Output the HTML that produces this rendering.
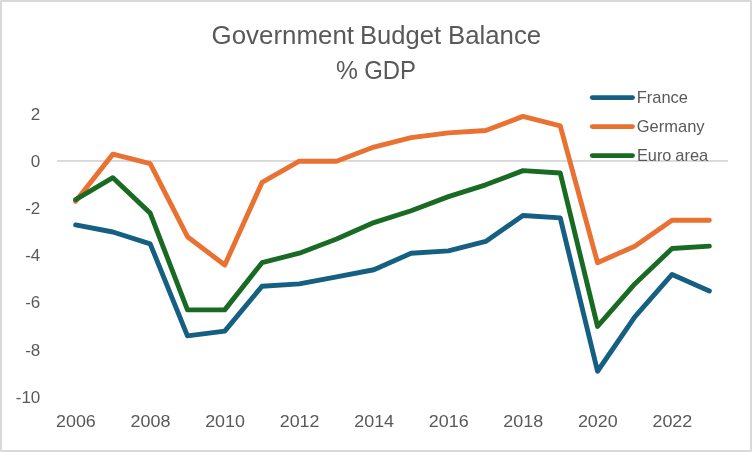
<!DOCTYPE html>
<html><head><meta charset="utf-8"><title>Government Budget Balance</title>
<style>
html,body{margin:0;padding:0;background:#fff;}
body{width:752px;height:452px;overflow:hidden;}
svg{display:block;}
text{font-family:"Liberation Sans",Arial,sans-serif;fill:#595959;}
.t{font-size:25.7px;}
.a{font-size:17px;}
.g{font-size:16.6px;}
.y{text-anchor:end;}
.x{text-anchor:middle;}
.l{fill:none;stroke-width:4.9;stroke-linejoin:round;stroke-linecap:round;}
</style></head><body>
<svg width="752" height="452" viewBox="0 0 752 452">
<rect x="0" y="0" width="752" height="452" fill="#fff"/>
<rect x="1" y="1" width="750" height="450" fill="none" stroke="#d9d9d9" stroke-width="2"/>
<path d="M0 0h1v1h-1zM751 0h1v1h-1zM0 451h1v1h-1zM751 451h1v1h-1z" fill="#e8e8e8"/>
<text class="t" y="43.7"><tspan x="211.6" textLength="142.4" lengthAdjust="spacingAndGlyphs">Government</tspan> <tspan x="359.9" textLength="81.1" lengthAdjust="spacingAndGlyphs">Budget</tspan> <tspan x="448.0" textLength="93.2" lengthAdjust="spacingAndGlyphs">Balance</tspan></text>
<text class="t" y="79.3"><tspan x="336.1" textLength="21.9" lengthAdjust="spacingAndGlyphs">%</tspan> <tspan x="364.2" textLength="51.8" lengthAdjust="spacingAndGlyphs">GDP</tspan></text>
<rect x="57.0" y="160" width="671.0" height="1.9" fill="#d9d9d9"/>
<text class="a y" x="40.3" y="120">2</text>
<text class="a y" x="40.3" y="167">0</text>
<text class="a y" x="40.3" y="214">-2</text>
<text class="a y" x="40.3" y="261">-4</text>
<text class="a y" x="40.3" y="308">-6</text>
<text class="a y" x="40.3" y="356">-8</text>
<text class="a y" x="40.3" y="403">-10</text>
<text class="a x" x="75.94" y="427" textLength="39.8" lengthAdjust="spacingAndGlyphs">2006</text>
<text class="a x" x="150.49" y="427" textLength="39.8" lengthAdjust="spacingAndGlyphs">2008</text>
<text class="a x" x="225.05" y="427" textLength="39.8" lengthAdjust="spacingAndGlyphs">2010</text>
<text class="a x" x="299.61" y="427" textLength="39.8" lengthAdjust="spacingAndGlyphs">2012</text>
<text class="a x" x="374.16" y="427" textLength="39.8" lengthAdjust="spacingAndGlyphs">2014</text>
<text class="a x" x="448.72" y="427" textLength="39.8" lengthAdjust="spacingAndGlyphs">2016</text>
<text class="a x" x="523.27" y="427" textLength="39.8" lengthAdjust="spacingAndGlyphs">2018</text>
<text class="a x" x="597.83" y="427" textLength="39.8" lengthAdjust="spacingAndGlyphs">2020</text>
<text class="a x" x="672.38" y="427" textLength="39.8" lengthAdjust="spacingAndGlyphs">2022</text>
<polyline class="l" stroke="#156082" points="75.64,224.92 112.92,232.00 150.19,243.80 187.47,335.84 224.75,331.12 262.03,286.28 299.31,283.92 336.58,276.84 373.86,269.76 411.14,253.24 448.42,250.88 485.69,241.44 522.97,215.48 560.25,217.84 597.53,371.24 634.81,316.96 672.08,274.48 709.36,291.00"/>
<polyline class="l" stroke="#e97132" points="75.64,201.32 112.92,154.12 150.19,163.56 187.47,236.72 224.75,265.04 262.03,182.44 299.31,161.20 336.58,161.20 373.86,147.04 411.14,137.60 448.42,132.88 485.69,130.52 522.97,116.36 560.25,125.80 597.53,262.68 634.81,246.16 672.08,220.20 709.36,220.20"/>
<polyline class="l" stroke="#196b24" points="75.64,199.67 112.92,177.72 150.19,213.12 187.47,309.88 224.75,309.88 262.03,262.68 299.31,253.24 336.58,239.08 373.86,222.56 411.14,210.76 448.42,196.60 485.69,184.80 522.97,170.64 560.25,173.00 597.53,326.40 634.81,283.92 672.08,248.52 709.36,246.16"/>
<line class="l" stroke="#156082" x1="592.3" x2="632.5" y1="97.6" y2="97.6"/>
<text class="g" y="102.8"><tspan x="636.7" textLength="51.3" lengthAdjust="spacingAndGlyphs">France</tspan></text>
<line class="l" stroke="#e97132" x1="592.3" x2="632.5" y1="126.6" y2="126.6"/>
<text class="g" y="131.6"><tspan x="636.8" textLength="67.8" lengthAdjust="spacingAndGlyphs">Germany</tspan></text>
<line class="l" stroke="#196b24" x1="592.3" x2="632.5" y1="155.6" y2="155.6"/>
<text class="g" y="160.5"><tspan x="637.0" textLength="34.4" lengthAdjust="spacingAndGlyphs">Euro</tspan> <tspan x="675.3" textLength="33.0" lengthAdjust="spacingAndGlyphs">area</tspan></text>
</svg></body></html>
